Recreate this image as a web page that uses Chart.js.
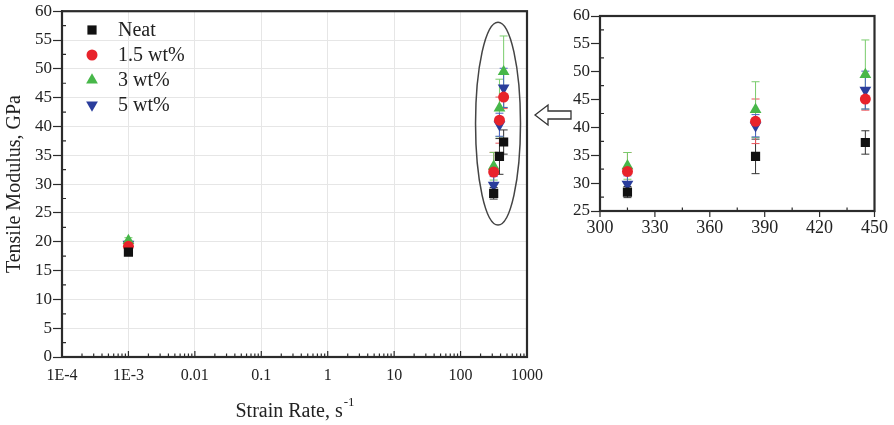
<!DOCTYPE html>
<html>
<head>
<meta charset="utf-8">
<script src="https://cdn.jsdelivr.net/npm/chart.js@4.4.0/dist/chart.umd.min.js"></script>
<style>
html, body { margin: 0; padding: 0; background: #fff; }
#wrap { position: relative; width: 894px; height: 425px; overflow: hidden; }
#main { position: absolute; left: 0; top: 0; }
#inset { position: absolute; left: 560px; top: 0; }
</style>
</head>
<body>
<div id="wrap">
  <canvas id="main" width="580" height="425"></canvas>
  <canvas id="inset" width="334" height="250"></canvas>
</div>
<script>
// strain rates (1/s) and modulus values (GPa)
const strainRates = [0.001, 315, 385, 445]
const seriesNames = ['Neat', '1.5 wt%', '3 wt%', '5 wt%']
const neat = [18.2, 28.4, 34.8, 37.3]
const neatErr = [0.5, 1.0, 3.1, 2.1]
const wt15 = [19.2, 32.1, 41.1, 45.1]
const wt15Err = [0.5, 3.4, 4.0, 2.0]
const wt3 = [20.2, 33.1, 43.2, 49.5]
const wt3Err = [0.5, 2.4, 5.0, 6.2]
const wt5 = [19.6, 29.8, 40.3, 46.7]
const wt5Err = [0.5, 1.5, 2.0, 3.4]

const xTickValues = [1e-4, 1e-3, 0.01, 0.1, 1, 10, 100, 1000]
const xTickLabels = ['1E-4', '1E-3', '0.01', '0.1', '1', '10', '100', '1000']
const insetXTicks = [300, 330, 360, 390, 420, 450]

const SERIF = "'Liberation Serif', 'Times New Roman', serif"
const INK = '#2b2b2b'

const styles = [
  { color: '#111111', err: '#333333', pointStyle: 'rect', radius: 6.5, rotation: 0 },
  { color: '#e8232b', err: '#e8535a', pointStyle: 'circle', radius: 5.5, rotation: 0 },
  { color: '#47b749', err: '#79cc6c', pointStyle: 'triangle', radius: 6.8, rotation: 0 },
  { color: '#2a3d9c', err: '#4a63c4', pointStyle: 'triangle', radius: 6.8, rotation: 180 }
]
const values = [neat, wt15, wt3, wt5]
const errors = [neatErr, wt15Err, wt3Err, wt5Err]

function buildDatasets(minX) {
  return seriesNames.map((name, i) => {
    const pts = [], errs = []
    strainRates.forEach((r, j) => {
      if (r >= minX) { pts.push({ x: r, y: values[i][j] }); errs.push(errors[i][j]) }
    })
    const s = styles[i]
    return {
      label: name,
      data: pts,
      errors: errs,
      errColor: s.err,
      showLine: false,
      pointStyle: s.pointStyle,
      rotation: s.rotation,
      pointRadius: s.radius,
      pointHoverRadius: s.radius,
      backgroundColor: s.color,
      borderColor: s.color,
      borderWidth: 0
    }
  })
}

function drawErrorBars(chart) {
  const ctx = chart.ctx, xs = chart.scales.x, ys = chart.scales.y, a = chart.chartArea
  ctx.save()
  ctx.beginPath()
  ctx.rect(a.left, a.top, a.right - a.left, a.bottom - a.top)
  ctx.clip()
  chart.data.datasets.forEach(ds => {
    ctx.strokeStyle = ds.errColor
    ctx.lineWidth = 1
    ds.data.forEach((p, j) => {
      const e = ds.errors[j]
      const px = xs.getPixelForValue(p.x)
      const t = ys.getPixelForValue(p.y + e), b = ys.getPixelForValue(p.y - e)
      ctx.beginPath()
      ctx.moveTo(px, t); ctx.lineTo(px, b)
      ctx.moveTo(px - 4, t); ctx.lineTo(px + 4, t)
      ctx.moveTo(px - 4, b); ctx.lineTo(px + 4, b)
      ctx.stroke()
    })
  })
  ctx.restore()
}

// majorDir: -1 = inward (up), 1 = outward (down)
function drawFrameAndTicks(chart, xMajor, xMinor, yMinor, majorDir) {
  const ctx = chart.ctx, xs = chart.scales.x, ys = chart.scales.y, a = chart.chartArea
  ctx.save()
  ctx.strokeStyle = INK
  ctx.lineWidth = 1.2
  ctx.beginPath()
  xMajor.forEach(v => { const p = xs.getPixelForValue(v); ctx.moveTo(p, a.bottom); ctx.lineTo(p, a.bottom + 6 * majorDir) })
  xMinor.forEach(v => { const p = xs.getPixelForValue(v); ctx.moveTo(p, a.bottom); ctx.lineTo(p, a.bottom - 3.5) })
  yMinor.forEach(v => { const p = ys.getPixelForValue(v); ctx.moveTo(a.left, p); ctx.lineTo(a.left + 4, p) })
  ctx.stroke()
  ctx.lineWidth = 2.2
  ctx.strokeRect(a.left, a.top, a.right - a.left, a.bottom - a.top)
  ctx.restore()
}

// log minor ticks 2..9 of each decade
const logMinor = []
for (let d = -4; d < 3; d++) for (let k = 2; k <= 9; k++) logMinor.push(k * Math.pow(10, d))
const mainYMinor = []
for (let v = 2.5; v < 60; v += 5) mainYMinor.push(v)
const insetXMinor = [315, 345, 375, 405, 435]
const insetYMinor = [27.5, 32.5, 37.5, 42.5, 47.5, 52.5, 57.5]

const mainDecor = {
  id: 'mainDecor',
  beforeDatasetsDraw(chart) { drawErrorBars(chart) },
  afterDraw(chart) {
    const ctx = chart.ctx, xs = chart.scales.x, ys = chart.scales.y, a = chart.chartArea
    drawFrameAndTicks(chart, xTickValues, logMinor, mainYMinor, -1)
    ctx.save()
    // ellipse around the high-rate points
    const l = xs.getPixelForValue(168), r = xs.getPixelForValue(798)
    const t = ys.getPixelForValue(58.1), b = ys.getPixelForValue(22.9)
    ctx.strokeStyle = '#444'
    ctx.lineWidth = 1.5
    ctx.beginPath()
    ctx.ellipse((l + r) / 2, (t + b) / 2, (r - l) / 2, (b - t) / 2, 0, 0, Math.PI * 2)
    ctx.stroke()
    // hollow arrow pointing to the ellipse
    ctx.lineWidth = 1.3
    ctx.strokeStyle = '#333'
    ctx.fillStyle = '#fff'
    ctx.beginPath()
    ctx.moveTo(535, 115); ctx.lineTo(548, 105); ctx.lineTo(548, 111); ctx.lineTo(571, 111)
    ctx.lineTo(571, 119); ctx.lineTo(548, 119); ctx.lineTo(548, 125); ctx.closePath()
    ctx.fill(); ctx.stroke()
    // legend inside the plot
    ctx.font = '20px ' + SERIF
    ctx.textBaseline = 'middle'
    chart.data.datasets.forEach((ds, i) => {
      const y = 30 + i * 25
      ctx.fillStyle = ds.backgroundColor
      ctx.strokeStyle = ds.backgroundColor
      Chart.helpers.drawPoint(ctx, { pointStyle: ds.pointStyle, rotation: ds.rotation, radius: ds.pointRadius, borderWidth: 0 }, 92, y)
      ctx.fillStyle = '#222'
      ctx.fillText(ds.label, 118, y + 1)
    })
    // x title with superscript
    const cx = (a.left + a.right) / 2
    ctx.font = '20px ' + SERIF
    ctx.textBaseline = 'alphabetic'
    const main = 'Strain Rate, s'
    const w1 = ctx.measureText(main).width
    ctx.font = '13px ' + SERIF
    const w2 = ctx.measureText('-1').width
    const x0 = cx - (w1 + w2) / 2
    ctx.fillStyle = '#222'
    ctx.font = '20px ' + SERIF
    ctx.fillText(main, x0, 417)
    ctx.font = '13px ' + SERIF
    ctx.fillText('-1', x0 + w1 + 1, 406)
    ctx.restore()
  }
}

const insetDecor = {
  id: 'insetDecor',
  beforeDatasetsDraw(chart) { drawErrorBars(chart) },
  afterDraw(chart) { drawFrameAndTicks(chart, insetXTicks, insetXMinor, insetYMinor, 1) }
}

Chart.defaults.animation = false
Chart.defaults.color = '#222'

new Chart(document.getElementById('main'), {
  type: 'scatter',
  data: { datasets: buildDatasets(0) },
  plugins: [mainDecor],
  options: {
    responsive: false,
    layout: { padding: { left: 0, top: 11, right: 53, bottom: 0 } },
    plugins: { legend: { display: false }, tooltip: { enabled: false } },
    scales: {
      x: {
        type: 'logarithmic',
        min: 1e-4,
        max: 1000,
        afterBuildTicks: s => { s.ticks = xTickValues.map(v => ({ value: v })) },
        afterFit: s => { s.height = 68 },
        ticks: {
          autoSkip: false,
          maxRotation: 0,
          padding: 9,
          font: { family: SERIF, size: 16 },
          callback: (v, i) => xTickLabels[i]
        },
        grid: { color: '#e6e6e6', drawTicks: false },
        border: { color: INK, width: 2 }
      },
      y: {
        min: 0,
        max: 60,
        afterFit: s => { s.width = 62 },
        ticks: { stepSize: 5, padding: 1, font: { family: SERIF, size: 17 } },
        grid: { color: '#e6e6e6', tickColor: INK, tickLength: 9, tickWidth: 1.2 },
        border: { color: INK, width: 2 },
        title: {
          display: true,
          text: 'Tensile Modulus, GPa',
          font: { family: SERIF, size: 20 },
          padding: { top: 3, bottom: 0 }
        }
      }
    }
  }
})

new Chart(document.getElementById('inset'), {
  type: 'scatter',
  data: { datasets: buildDatasets(300) },
  plugins: [insetDecor],
  options: {
    responsive: false,
    layout: { padding: { left: 0, top: 16, right: 19, bottom: 0 } },
    plugins: { legend: { display: false }, tooltip: { enabled: false } },
    scales: {
      x: {
        type: 'linear',
        min: 300,
        max: 450,
        afterBuildTicks: s => { s.ticks = insetXTicks.map(v => ({ value: v })) },
        afterFit: s => { s.height = 39 },
        ticks: { autoSkip: false, maxRotation: 0, padding: 6, font: { family: SERIF, size: 18 } },
        grid: { display: false, drawTicks: false },
        border: { color: INK, width: 2 }
      },
      y: {
        min: 25,
        max: 60,
        afterFit: s => { s.width = 40 },
        ticks: { stepSize: 5, padding: 1, font: { family: SERIF, size: 17 } },
        grid: { drawOnChartArea: false, tickColor: INK, tickLength: 9, tickWidth: 1.2 },
        border: { color: INK, width: 2 }
      }
    }
  }
})
</script>
</body>
</html>
